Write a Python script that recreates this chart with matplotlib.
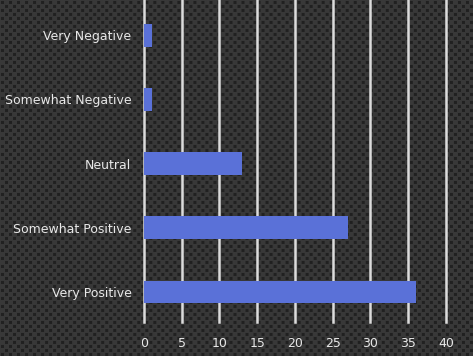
import numpy as np
import matplotlib

matplotlib.use("Agg")
import matplotlib.pyplot as plt

categories = ["Very Positive", "Somewhat Positive", "Neutral",
              "Somewhat Negative", "Very Negative"]
counts = [36, 27, 13, 1, 1]
xticks = [0, 5, 10, 15, 20, 25, 30, 35, 40]

fig = plt.figure(figsize=(4.73, 3.56), dpi=100)
fig.patch.set_facecolor("#2c2c2c")

# dotted texture behind everything
bg = fig.add_axes([0, 0, 1, 1], zorder=-10)
yy, xx = np.mgrid[0:356, 0:473]
tex = np.full(yy.shape, 0.22)
r1 = (xx % 8 - 2) ** 2 + (yy % 8 - 2) ** 2
r2 = ((xx + 4) % 8 - 2) ** 2 + ((yy + 4) % 8 - 2) ** 2
tex[(r1 <= 2) | (r2 <= 2)] = 0.13
bg.imshow(tex, cmap="gray", vmin=0, vmax=1, aspect="auto", interpolation="bilinear")
bg.axis("off")

ax = fig.add_axes([0.3044, 0.0955, 0.6385, 0.9045])
ax.patch.set_alpha(0)
y = np.arange(len(categories))
ax.barh(y, counts, height=0.35, color="#5a71d8", zorder=3)
ax.set_xlim(0, 40)
ax.set_ylim(-0.47, 4.55)
ax.set_xticks(xticks)
ax.set_yticks(y)
ax.set_yticklabels(categories)
ax.grid(axis="x", color="#dcdcdc", lw=1.8, zorder=1)
for gl in ax.get_xgridlines():
    gl.set_clip_on(False)
ax.tick_params(length=0, colors="#e8e8e8", labelsize=9, pad=9)
ax.tick_params(axis="x", pad=11)
for s in ax.spines.values():
    s.set_visible(False)

fig.savefig("out.png", dpi=100, facecolor=fig.get_facecolor())
